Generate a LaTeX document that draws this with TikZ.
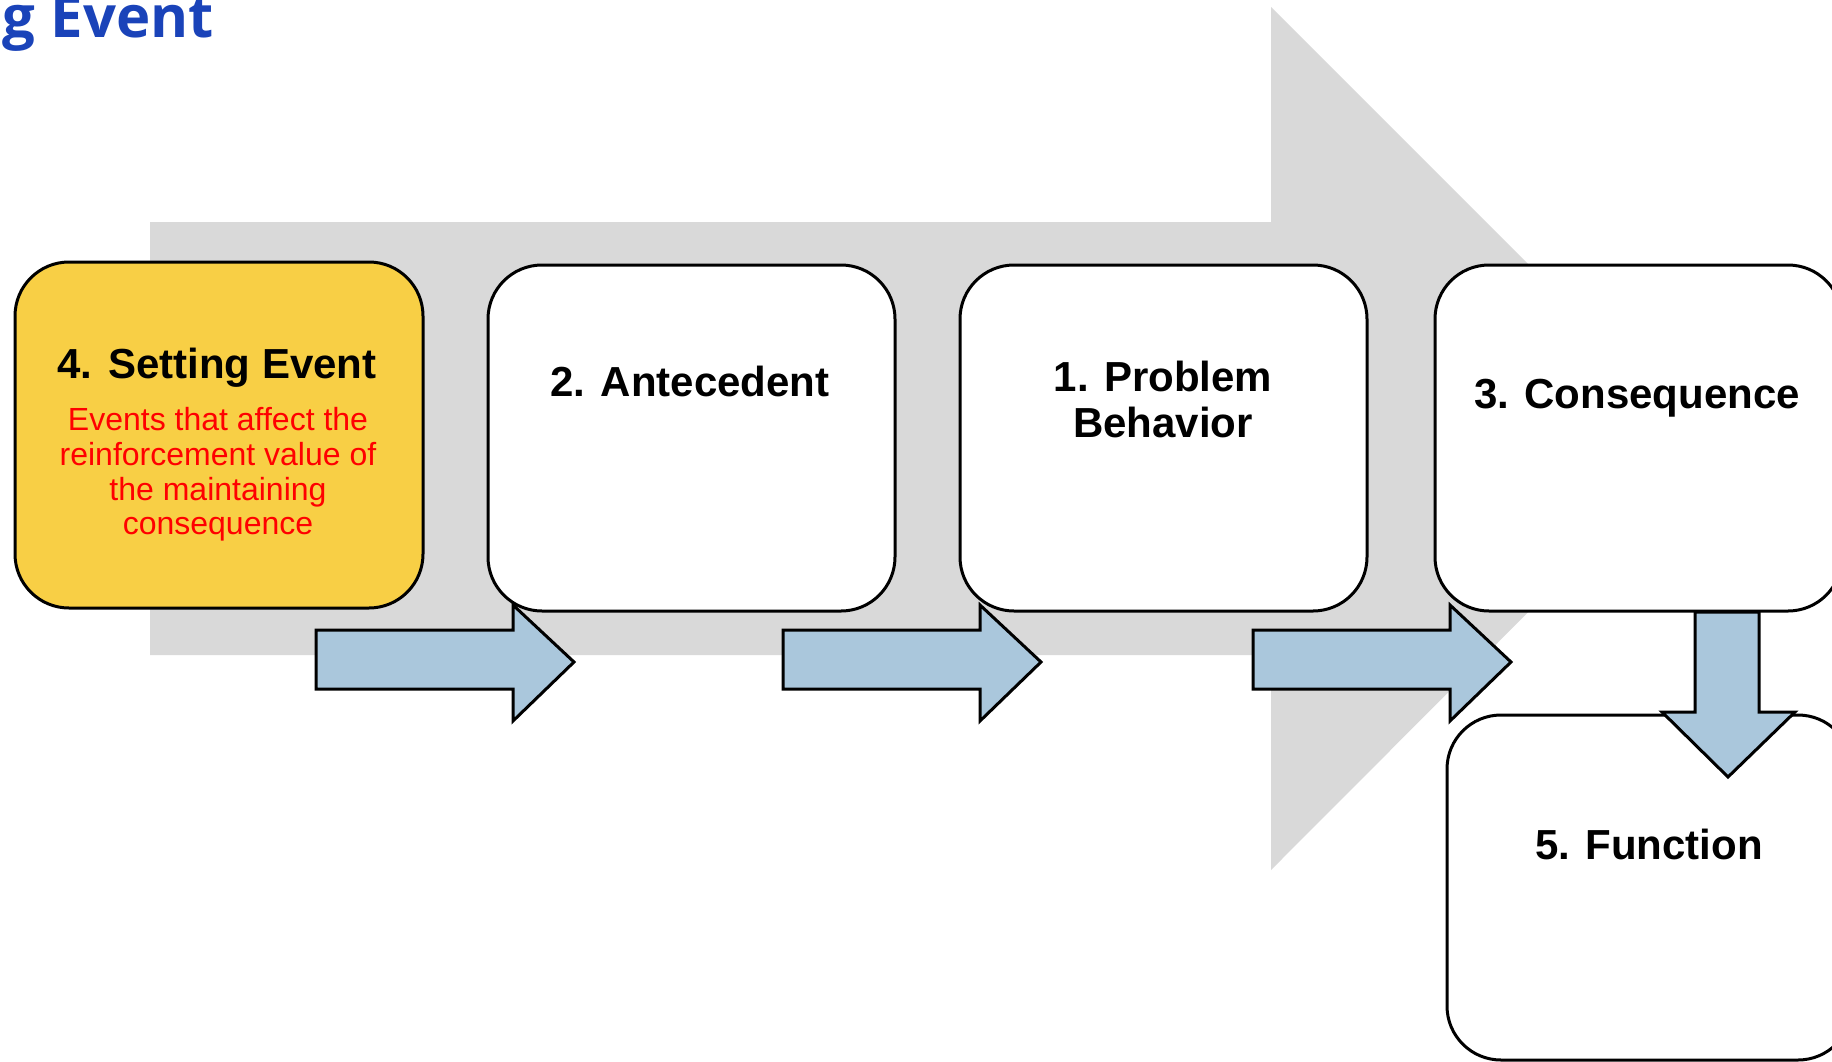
\documentclass[tikz,border=0pt]{standalone}
\usepackage{fontspec}
\setmainfont{Liberation Sans}
\newfontfamily\titlefont{Open Sans}
\definecolor{bggray}{HTML}{D9D9D9}
\definecolor{boxyellow}{HTML}{F8CF45}
\definecolor{arrowblue}{HTML}{AAC7DC}
\definecolor{titleblue}{HTML}{1A43B9}
\definecolor{redtext}{HTML}{FF0000}
\tikzset{
  stagebox/.style={draw=black, line width=3pt, fill=white, rounded corners=54pt,
    minimum width=407pt, minimum height=346pt, inner sep=0pt},
  blockarrow/.style={draw=black, line width=3pt, fill=arrowblue, line join=miter},
  boxtitle/.style={anchor=base, inner sep=0pt, font=\bfseries\fontsize{42}{46}\selectfont, align=center},
  redlabel/.style={anchor=base, inner sep=0pt, text=redtext, font=\fontsize{32}{34.5}\selectfont, align=center}
}
\begin{document}
\begin{tikzpicture}[x=1pt,y=-1pt]
\useasboundingbox (0,0) rectangle (1832,1061);
\clip (0,0) rectangle (1832,1061);
% big gray arrow
\fill[bggray] (150,222) -- (1271,222) -- (1271,7) -- (1702,438) -- (1271,870) -- (1271,655) -- (150,655) -- cycle;
% title fragment
\node[anchor=base east, inner sep=0pt, text=titleblue, font=\titlefont\bfseries\fontsize{58}{62}\selectfont] (ttl) at (214,37) {g Event};
% boxes
\node[stagebox, fill=boxyellow, minimum width=408pt] (se) at (219,435) {};
\node[stagebox] (ant) at (691.5,438) {};
\node[stagebox] (pb) at (1163.5,438) {};
\node[stagebox] (con) at (1638.5,438) {};
\node[stagebox, minimum width=405pt, minimum height=345pt] (fun) at (1649.5,887.5) {};
% labels
\node[boxtitle] (setitle) at (217,378) {4. Setting Event};
\node[redlabel] (sel1) at (218,430) {Events that affect the};
\node[redlabel] (sel2) at (218,465) {reinforcement value of};
\node[redlabel] (sel3) at (218,500) {the maintaining};
\node[redlabel] (sel4) at (218,534) {consequence};
\node[boxtitle] (anttitle) at (690,396) {2. Antecedent};
\node[boxtitle] (pbtitle1) at (1163,391) {1. Problem};
\node[boxtitle] (pbtitle2) at (1163,437) {Behavior};
\node[boxtitle] (contitle) at (1637,408) {3. Consequence};
\node[boxtitle] (funtitle) at (1649,859) {5. Function};
% blue block arrows
\draw[blockarrow] (316,630) -- (513,630) -- (513,605) -- (574,662) -- (513,721) -- (513,689) -- (316,689) -- cycle;
\draw[blockarrow] (783,630) -- (980,630) -- (980,605) -- (1041,662) -- (980,721) -- (980,689) -- (783,689) -- cycle;
\draw[blockarrow] (1253,630) -- (1450,630) -- (1450,605) -- (1511,662) -- (1450,721) -- (1450,689) -- (1253,689) -- cycle;
\draw[blockarrow] (1695,612) -- (1759,612) -- (1759,712) -- (1795,712) -- (1728,777) -- (1662,712) -- (1695,712) -- cycle;
\end{tikzpicture}
\end{document}
